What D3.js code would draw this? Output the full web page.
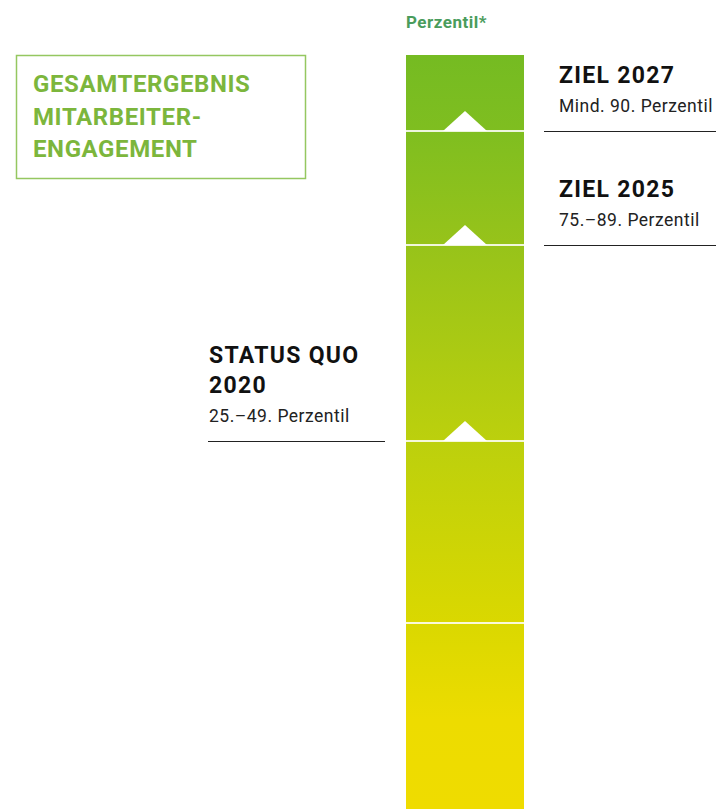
<!DOCTYPE html>
<html>
<head>
<meta charset="utf-8">
<script src="https://cdn.jsdelivr.net/npm/d3@7"></script>
<style>
  body { margin: 0; background: #fff; }
  svg { display: block; }
</style>
</head>
<body>
<div id="viz-container"></div>
<script>
// percentile boundaries of the segments in the bar
var segmentBounds = [90, 75, 50, 25];
// markers (triangles) on the boundaries
var markerPercentiles = [90, 75, 50];

// labels
var labelTitles = [["ZIEL 2027"], ["ZIEL 2025"], ["STATUS QUO", "2020"]];
var labelSubs = ["Mind. 90. Perzentil", "75.–89. Perzentil", "25.–49. Perzentil"];
var labelPercentiles = [90, 75, 50];
var labelSides = ["right", "right", "left"];

var boxLines = ["GESAMTERGEBNIS", "MITARBEITER-", "ENGAGEMENT"];
var axisTitle = "Perzentil*";

// colour stops (percentile -> colour)
var colourStops = [100, 90, 75, 50, 25, 12, 0];
var colourValues = ["#75bb22", "#7fbe20", "#97c31a", "#bcd00d", "#dad800", "#eddc00", "#efdc00"];

var width = 716, height = 809;
var font = "Roboto, 'DejaVu Sans', sans-serif";

var svg = d3.select('#viz-container')
  .append('svg')
  .attr("width", width)
  .attr("height", height);

// the bar is not evenly spaced, so piecewise scale
var y = d3.scaleLinear()
  .domain([0, 25, 50, 75, 90, 100])
  .range([809, 623, 441, 245, 131, 55]);

var barX = 406, barW = 118;

// gradient
var grad = svg.append("defs").append("linearGradient")
  .attr("id", "barGrad")
  .attr("gradientUnits", "userSpaceOnUse")
  .attr("x1", 0).attr("x2", 0)
  .attr("y1", y(100)).attr("y2", y(0));

grad.selectAll("stop")
  .data(colourStops)
  .enter()
  .append("stop")
  .attr("offset", function (d) { return (y(d) - y(100)) / (y(0) - y(100)); })
  .attr("stop-color", function (d, i) { return colourValues[i]; });

svg.append("rect")
  .attr("x", barX)
  .attr("y", y(100))
  .attr("width", barW)
  .attr("height", y(0) - y(100))
  .style("fill", "url(#barGrad)");

// white triangles
var triW = 44, triH = 20;
svg.selectAll(".marker")
  .data(markerPercentiles)
  .enter()
  .append("path")
  .attr("class", "marker")
  .attr("d", function (d) {
    var cx = barX + barW / 2, by = y(d);
    return "M" + (cx - triW / 2) + "," + by + "L" + cx + "," + (by - triH) + "L" + (cx + triW / 2) + "," + by + "Z";
  })
  .style("fill", "#fff");

// separators
svg.selectAll(".sep")
  .data(segmentBounds)
  .enter()
  .append("line")
  .attr("class", "sep")
  .attr("x1", barX)
  .attr("x2", barX + barW)
  .attr("y1", function (d) { return y(d); })
  .attr("y2", function (d) { return y(d); })
  .style("stroke", "#fff")
  .attr("stroke-opacity", 0.85)
  .style("stroke-width", 2);

// axis title
svg.append("text")
  .text(axisTitle)
  .attr("x", barX)
  .attr("y", 28)
  .style("font-family", font)
  .style("font-weight", "bold")
  .style("font-size", "17px")
  .style("letter-spacing", "0.5px")
  .style("fill", "#4a9c5c");

// title box
svg.append("rect")
  .attr("x", 16.5)
  .attr("y", 55.5)
  .attr("width", 289)
  .attr("height", 123)
  .style("fill", "none")
  .style("stroke", "#95c760")
  .style("stroke-width", 1.5);

svg.selectAll(".boxline")
  .data(boxLines)
  .enter()
  .append("text")
  .attr("class", "boxline")
  .text(function (d) { return d; })
  .attr("x", 33)
  .attr("y", function (d, i) { return 92 + i * 32.5; })
  .style("font-family", font)
  .style("font-weight", "bold")
  .style("font-size", "24px")
  .style("letter-spacing", "0.6px")
  .style("fill", "#7cb63c");

// labels
labelPercentiles.forEach(function (p, i) {
  var ly = y(p);
  var right = labelSides[i] == "right";
  var x0 = right ? 544 : 208;
  var x1 = right ? 716 : 385;
  var tx = right ? 559 : 209;
  var titles = labelTitles[i];

  svg.append("line")
    .attr("x1", x0)
    .attr("x2", x1)
    .attr("y1", ly + 0.5)
    .attr("y2", ly + 0.5)
    .style("stroke", "#222")
    .style("stroke-width", 1.2);

  var subY = ly - 19;
  svg.append("text")
    .text(labelSubs[i])
    .attr("x", tx)
    .attr("y", subY)
    .style("font-family", font)
    .style("font-size", "17.5px")
    .style("letter-spacing", "0.5px")
    .style("fill", "#222");

  titles.forEach(function (t, j) {
    svg.append("text")
      .text(t)
      .attr("x", tx)
      .attr("y", subY - 29 - (titles.length - 1 - j) * 30)
      .style("font-family", font)
      .style("font-weight", "bold")
      .style("font-size", "23px")
      .style("letter-spacing", "1.3px")
      .style("fill", "#111");
  });
});
</script>
</body>
</html>
